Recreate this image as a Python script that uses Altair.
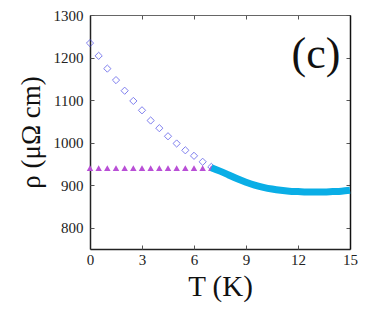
import altair as alt
import pandas as pd

# Data
diamond_T = [0, 0.5, 1, 1.5, 2, 2.5, 3, 3.5, 4, 4.5, 5, 5.5, 6, 6.5, 7]
diamond_rho = [1234, 1204, 1174, 1147, 1122, 1098, 1076, 1052, 1034, 1015, 998, 982, 969, 955, 943]

tri_T = [0, 0.5, 1, 1.5, 2, 2.5, 3, 3.5, 4, 4.5, 5, 5.5, 6, 6.5, 7]
tri_rho = [940] * 15

line_T = [7, 7.5, 8, 8.5, 9, 9.5, 10, 10.5, 11, 11.5, 12, 12.5, 13, 13.5, 14, 14.5, 15]
line_rho = [941, 933, 924, 915, 907, 900, 895, 891, 888, 886, 885, 884, 884, 884, 885, 886, 888]

x_ticks = [0, 3, 6, 9, 12, 15]
y_ticks = [800, 900, 1000, 1100, 1200, 1300]

W, H = 260, 234
FONT = "Liberation Serif"

df_d = pd.DataFrame({"T": diamond_T, "rho": diamond_rho})
df_t = pd.DataFrame({"T": tri_T, "rho": tri_rho})
df_l = pd.DataFrame({"T": line_T, "rho": line_rho})

xs = alt.Scale(domain=[0, 15], nice=False)
ys = alt.Scale(domain=[750, 1300], nice=False, zero=False)

# Main axes (labels, titles, left/bottom frame)
x_main = alt.Axis(orient="bottom", values=x_ticks, ticks=False, grid=False, format="d",
                  labelFlush=False,
                  domainColor="#222", domainWidth=1.5,
                  labelFont=FONT, labelFontSize=15, labelColor="#222", labelPadding=3,
                  title="T (K)", titleFont=FONT, titleFontSize=29, titleFontWeight="normal",
                  titleColor="#111", titlePadding=5)
y_main = alt.Axis(orient="left", values=y_ticks, ticks=False, grid=False, format="d",
                  labelFlush=False,
                  domainColor="#222", domainWidth=1.5,
                  labelFont=FONT, labelFontSize=15, labelColor="#222", labelPadding=7,
                  title="ρ (μΩ cm)", titleFont=FONT, titleFontSize=27, titleFontWeight="normal",
                  titleColor="#111", titlePadding=8)

# Inward ticks at bottom/left
x_in_bottom = alt.Axis(orient="top", offset=-H, values=x_ticks, labels=False, domain=False,
                       grid=False, tickSize=4, tickColor="#555", tickWidth=1, title=None)
y_in_left = alt.Axis(orient="right", offset=-W, values=y_ticks, labels=False, domain=False,
                     grid=False, tickSize=4, tickColor="#555", tickWidth=1, title=None)

# Top / right frame with inward ticks
x_top = alt.Axis(orient="bottom", offset=-H, values=x_ticks, labels=False, domain=True,
                 domainColor="#666", domainWidth=1, grid=False, tickSize=4,
                 tickColor="#555", title=None)
y_right = alt.Axis(orient="left", offset=-W, values=y_ticks, labels=False, domain=True,
                   domainColor="#111", domainWidth=1.5, grid=False, tickSize=4,
                   tickColor="#555", title=None)

diamonds = alt.Chart(df_d).mark_point(shape="diamond", size=52, filled=False,
                                      color="#4a4ae8", strokeWidth=1).encode(
    x=alt.X("T:Q", scale=xs, axis=x_main),
    y=alt.Y("rho:Q", scale=ys, axis=y_main),
)

tris = alt.Chart(df_t).mark_point(shape="triangle-up", size=42, filled=True,
                                  color="#b94fd6", opacity=1).encode(
    x=alt.X("T:Q", scale=xs, axis=x_in_bottom),
    y=alt.Y("rho:Q", scale=ys, axis=y_in_left),
)

line = alt.Chart(df_l).mark_line(color="#0aaee6", strokeWidth=7, interpolate="monotone",
                                 clip=False).encode(
    x=alt.X("T:Q", scale=xs, axis=x_top),
    y=alt.Y("rho:Q", scale=ys, axis=y_right),
)

label = alt.Chart(pd.DataFrame({"t": ["(c)"]})).mark_text(
    font=FONT, fontSize=44, color="#111", align="center", baseline="middle"
).encode(x=alt.value(226), y=alt.value(40), text="t:N")

chart = alt.layer(diamonds, tris, line, label).resolve_axis(
    x="independent", y="independent"
).properties(
    width=W, height=H,
    autosize=alt.AutoSizeParams(type="none"),
    padding={"left": 82, "top": 7, "right": 8, "bottom": 62},
).configure_view(strokeWidth=0).configure_axis(
    labelFont=FONT, titleFont=FONT
)

chart.save("out.html", embed_options={"renderer": "svg", "actions": False})
